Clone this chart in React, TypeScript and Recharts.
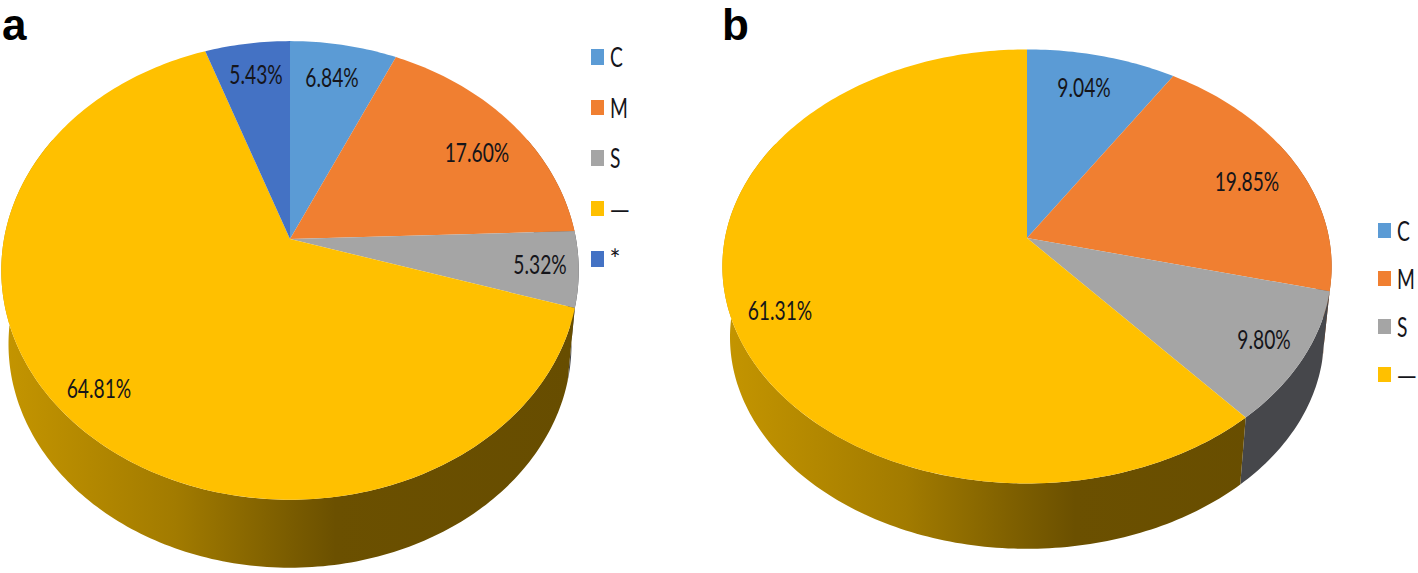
import * as React from "react";
import { PieChart, Pie, Legend } from "recharts";

const categoriesA = ["C", "M", "S", "—", "*"];
const valuesA = [6.84, 17.6, 5.32, 64.81, 5.43];
const categoriesB = ["C", "M", "S", "—"];
const valuesB = [9.04, 19.85, 9.8, 61.31];

const sliceColors = ["#5B9BD5", "#F07F31", "#A5A5A5", "#FFC000", "#4472C4"];
const wallColors = ["#35608A", "#9A4F1C", "#46474B", "url(#WALL)", "#2A4A82"];

const LABEL_FONT = "Lato, 'Noto Sans', sans-serif";

// perspective of the disc: apex, radii, k = how much nearer the front rim is
const panelA = {
  id: "a",
  left: 0,
  width: 700,
  categories: categoriesA,
  values: valuesA,
  apexX: 290,
  apexY: 239,
  b: 286,
  a: 225,
  k: 0.137,
  depth: 74.5,
  shrink: 0.975,
  tagX: 2,
  labelPoints: [[332, 77], [477, 152], [540, 264], [99, 388], [256, 74]],
  legendLeft: 591,
  legendTop: 42,
  legendStep: 50.5,
};

const panelB = {
  id: "b",
  left: 700,
  width: 718,
  categories: categoriesB,
  values: valuesB,
  apexX: 327,
  apexY: 238,
  b: 302,
  a: 213.3,
  k: 0.131,
  depth: 71.5,
  shrink: 0.975,
  tagX: 22,
  labelPoints: [[384, 87], [547, 181], [564, 339], [80, 310]],
  legendLeft: 678,
  legendTop: 215.5,
  legendStep: 48,
};

type Panel = typeof panelA;

const rimPoint = (p: Panel, deg: number) => {
  const t = (deg * Math.PI) / 180;
  const X = Math.sin(t);
  const Y = Math.cos(t);
  const d = 1 + p.k * Y;
  return [p.apexX + (p.b * X) / d, p.apexY - (p.a * Y) / d];
};

const lowerPoint = (p: Panel, deg: number) => {
  const [x, y] = rimPoint(p, deg);
  return [
    p.apexX + p.shrink * (x - p.apexX),
    p.apexY + p.depth + p.shrink * (y - p.apexY),
  ];
};

const sweep = (from: number, to: number) => {
  const out: number[] = [];
  const steps = Math.max(2, Math.ceil(Math.abs(to - from)));
  for (let i = 0; i <= steps; i++) out.push(from + ((to - from) * i) / steps);
  return out;
};

const toPath = (pts: number[][]) =>
  "M" + pts.map((q) => q[0].toFixed(2) + "," + q[1].toFixed(2)).join("L") + "Z";

const topShape = (p: Panel) => (props: any) => {
  const from = 90 - props.startAngle;
  const to = 90 - props.endAngle;
  const pts = [[p.apexX, p.apexY], ...sweep(from, to).map((d) => rimPoint(p, d))];
  return <path d={toPath(pts)} fill={props.fill} stroke="none" />;
};

const wallShape = (p: Panel) => (props: any) => {
  // only the front of the rim shows, the rest ends up behind the top
  const from = Math.max(90 - props.startAngle, 62);
  const to = Math.min(90 - props.endAngle, 298);
  if (to <= from) return <g />;
  const degs = sweep(from, to);
  const pts = [
    ...degs.map((d) => rimPoint(p, d)),
    ...degs.slice().reverse().map((d) => lowerPoint(p, d)),
  ];
  return <path d={toPath(pts)} fill={props.wall} stroke="none" />;
};

const renderLabel = (p: Panel) => (props: any) => {
  const [x, y] = p.labelPoints[props.index];
  return (
    <text
      key={props.index}
      transform={`translate(${x},${y + 9.5}) scale(0.74,1)`}
      textAnchor="middle"
      fontFamily={LABEL_FONT}
      fontSize={26}
      fill="#15151a"
    >
      {p.values[props.index].toFixed(2)}%
    </text>
  );
};

const LegendBox = ({ p }: { p: Panel }) => (
  <div>
    {p.categories.map((name, i) => (
      <div
        key={name}
        style={{
          position: "absolute",
          left: 0,
          top: i * p.legendStep,
          height: 30,
          display: "flex",
          alignItems: "center",
        }}
      >
        <span
          style={{
            width: 12.5,
            height: 15.5,
            background: sliceColors[i],
            display: "inline-block",
          }}
        />
        <span
          style={{
            marginLeft: 6,
            fontFamily: LABEL_FONT,
            fontSize: 26,
            color: "#15151a",
            transform: name === "—" || name === "*" ? "none" : "scale(0.74,1)",
            transformOrigin: "left center",
            lineHeight: "30px",
            whiteSpace: "nowrap",
          }}
        >
          {name}
        </span>
      </div>
    ))}
  </div>
);

const PiePanel = ({ p }: { p: Panel }) => {
  const rows = p.categories.map((name, i) => ({
    name,
    value: p.values[i],
    fill: sliceColors[i],
    wall: wallColors[i].replace("WALL", "wall-" + p.id),
  }));
  const top = topShape(p);
  const wall = wallShape(p);
  const sharedPie = {
    data: rows,
    dataKey: "value",
    nameKey: "name",
    cx: p.apexX,
    cy: p.apexY,
    outerRadius: p.b,
    startAngle: 90,
    endAngle: -270,
    stroke: "none",
    isAnimationActive: false,
  };
  return (
    <div style={{ position: "absolute", left: p.left, top: 0 }}>
      <PieChart
        width={p.width}
        height={573}
        margin={{ top: 0, right: 0, bottom: 0, left: 0 }}
      >
        <defs>
          <linearGradient
            id={"wall-" + p.id}
            gradientUnits="userSpaceOnUse"
            x1={p.apexX - p.b}
            x2={p.apexX + p.b}
            y1={0}
            y2={0}
          >
            <stop offset="0" stopColor="#C49500" />
            <stop offset="0.3" stopColor="#A27B00" />
            <stop offset="0.5" stopColor="#7A5C00" />
            <stop offset="0.58" stopColor="#6B5000" />
            <stop offset="1" stopColor="#674D00" />
          </linearGradient>
        </defs>
        <Pie
          {...sharedPie}
          legendType="none"
          shape={wall}
          inactiveShape={wall}
          activeShape={wall}
        />
        <Pie
          {...sharedPie}
          shape={top}
          inactiveShape={top}
          activeShape={top}
          label={renderLabel(p)}
          labelLine={false}
        />
        <Legend
          content={() => <LegendBox p={p} />}
          wrapperStyle={{
            position: "absolute",
            left: p.legendLeft,
            top: p.legendTop,
            width: 50,
            height: 0,
          }}
        />
      </PieChart>
      <div
        style={{
          position: "absolute",
          left: p.tagX,
          top: 0,
          height: 50,
          lineHeight: "50px",
          fontFamily: "'Liberation Sans', Arial, sans-serif",
          fontWeight: 700,
          fontSize: 44,
          color: "#000",
        }}
      >
        {p.id}
      </div>
    </div>
  );
};

export default function App() {
  return (
    <div
      style={{
        position: "absolute",
        left: 0,
        top: 0,
        width: 1418,
        height: 573,
        background: "#fff",
        overflow: "hidden",
      }}
    >
      <PiePanel p={panelA} />
      <PiePanel p={panelB as Panel} />
    </div>
  );
}
